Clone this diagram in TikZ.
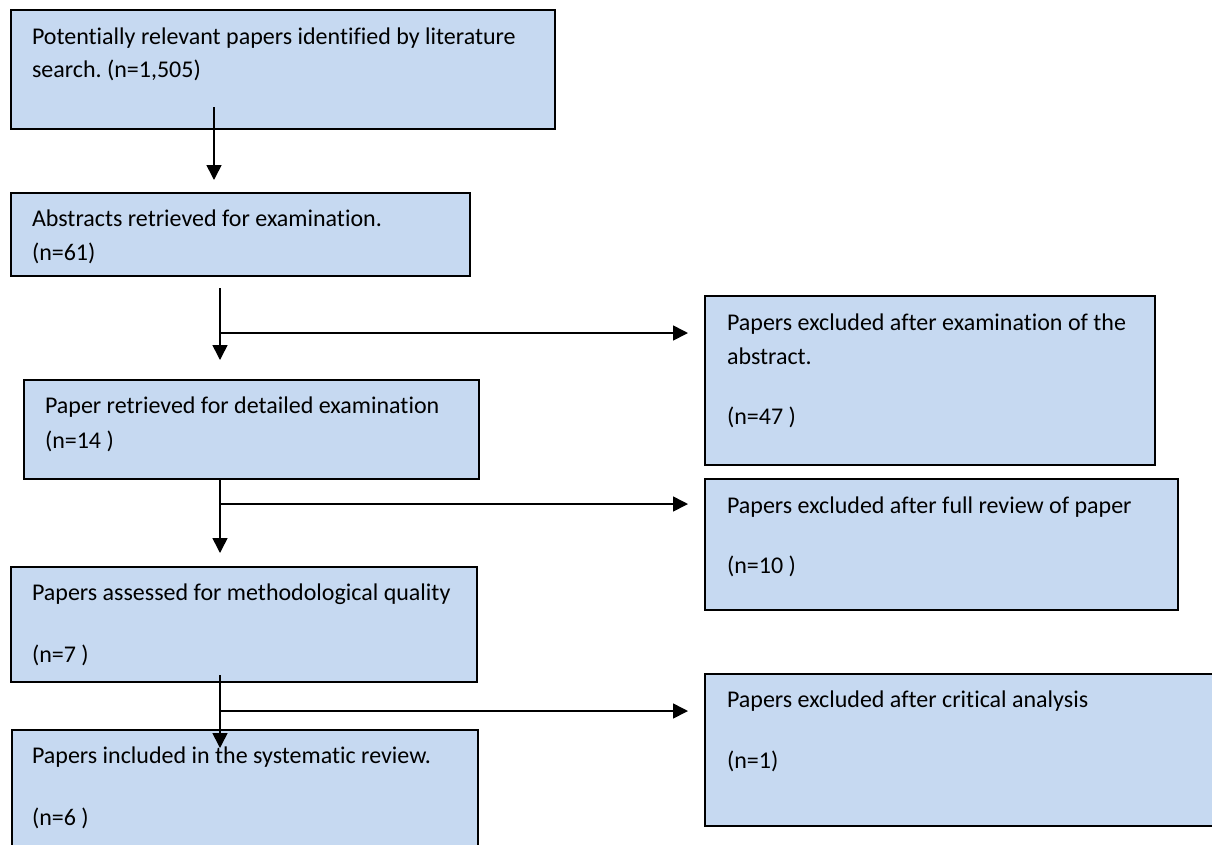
\documentclass[tikz,border=0pt]{standalone}
\usepackage{fontspec}
\setmainfont{Carlito}[Ligatures={NoCommon}]
\usetikzlibrary{arrows.meta}
\definecolor{boxfill}{HTML}{C6D9F1}
\frenchspacing
\begin{document}
\begin{tikzpicture}[x=1pt,y=-1pt,
  box/.style={draw=black, line width=1.5pt, fill=boxfill, rectangle, anchor=north west, inner sep=0pt, outer sep=0pt},
  txt/.style={anchor=base west, inner sep=0pt, outer sep=0pt, font=\fontsize{24}{28}\selectfont},
  conn/.style={line width=1.6pt, draw=black},
  arr/.style={conn, -{Triangle[length=15pt,width=15pt]}}]
\useasboundingbox (0,0) rectangle (1212,844);
\clip (0,0) rectangle (1212,844);
% boxes
\node[box, minimum width=544pt, minimum height=119pt] (b1) at (11,10) {};
\node[box, minimum width=459pt, minimum height=83pt] (b2) at (11,193) {};
\node[box, minimum width=455pt, minimum height=99pt] (b3) at (24,380) {};
\node[box, minimum width=466pt, minimum height=115pt] (b4) at (11,567) {};
\node[box, minimum width=466pt, minimum height=130pt] (b5) at (12,730) {};
\node[box, minimum width=450pt, minimum height=169pt] (r1) at (705,296) {};
\node[box, minimum width=473pt, minimum height=131pt] (r2) at (705,479) {};
\node[box, minimum width=520pt, minimum height=152pt] (r3) at (705,674) {};
% texts
\node[txt] (t1a) at (32,44) {Potentially relevant papers identified by literature};
\node[txt] (t1b) at (32,77) {search. (n=1,505)};
\node[txt] (t2a) at (32,226) {Abstracts retrieved for examination.};
\node[txt] (t2b) at (32,260) {(n=61)};
\node[txt] (t3a) at (45,413) {Paper retrieved for detailed examination};
\node[txt] (t3b) at (45,448) {(n=14 )};
\node[txt] (t4a) at (32,600) {Papers assessed for methodological quality};
\node[txt] (t4b) at (32,662) {(n=7 )};
\node[txt] (t5a) at (32,763) {Papers included in the systematic review.};
\node[txt] (t5b) at (32,825) {(n=6 )};
\node[txt] (r1a) at (727,330) {Papers excluded after examination of the};
\node[txt] (r1b) at (727,364) {abstract.};
\node[txt] (r1c) at (727,424) {(n=47 )};
\node[txt] (r2a) at (727,513) {Papers excluded after full review of paper};
\node[txt] (r2b) at (727,573) {(n=10 )};
\node[txt] (r3a) at (727,707) {Papers excluded after critical analysis};
\node[txt] (r3b) at (727,768) {(n=1)};
% connector points
\coordinate (s1) at (214,107);
\coordinate (e1) at (214,180);
\coordinate (s2) at (220,288);
\coordinate (e2) at (220,360);
\coordinate (j1) at (220,333);
\coordinate (k1) at (688,333);
\coordinate (s3) at (220,479);
\coordinate (e3) at (220,553);
\coordinate (j2) at (220,504);
\coordinate (k2) at (688,504);
\coordinate (s4) at (220,675);
\coordinate (e4) at (220,748);
\coordinate (j3) at (220,711);
\coordinate (k3) at (688,711);
% connectors
\draw[arr] (s1) -- (e1);
\draw[arr] (s2) -- (e2);
\draw[arr] (j1) -- (k1);
\draw[arr] (s3) -- (e3);
\draw[arr] (j2) -- (k2);
\draw[arr] (s4) -- (e4);
\draw[arr] (j3) -- (k3);
\end{tikzpicture}
\end{document}
